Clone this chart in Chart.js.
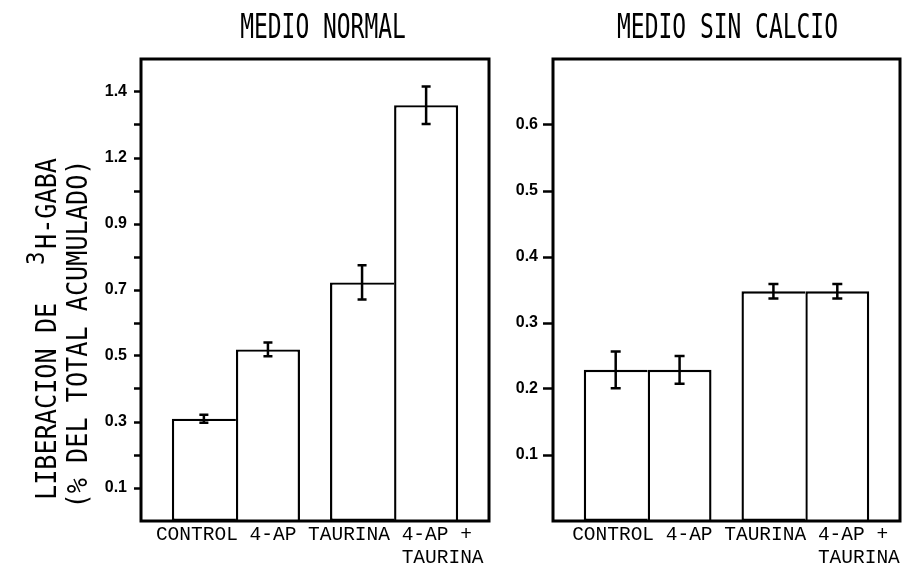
<!DOCTYPE html>
<html><head><meta charset="utf-8">
<script src="https://cdn.jsdelivr.net/npm/chart.js@4.4.0/dist/chart.umd.min.js"></script>
<style>
html,body{margin:0;padding:0;background:#fff;}
#wrap{position:relative;width:913px;height:572px;background:#fff;}
#c1{position:absolute;left:0;top:0;}
#c2{position:absolute;left:505px;top:0;}
</style></head><body>
<div id="wrap"><canvas id="c1" width="505" height="572"></canvas><canvas id="c2" width="408" height="572"></canvas></div>
<script>
// ---- data ----
const categories = ["CONTROL", "4-AP", "TAURINA", ["4-AP +", "TAURINA"]];
const groups = ["SIN TAURINA", "CON TAURINA"];
const normalMeans = [0.31, 0.52, 0.723, 1.36];
const normalErrors = [0.012, 0.021, 0.052, 0.057];
const noCalciumMeans = [0.229, 0.229, 0.348, 0.348];
const noCalciumErrors = [0.028, 0.021, 0.011, 0.011];
const normalTickLabels = ["0.1", "0.3", "0.5", "0.7", "0.9", "1.2", "1.4"];
const noCalciumTickLabels = ["0.1", "0.2", "0.3", "0.4", "0.5", "0.6"];
const titleNormal = "MEDIO NORMAL";
const titleNoCalcium = "MEDIO SIN CALCIO";
const yTitleLine1a = "LIBERACION DE";
const yTitleSup = "3";
const yTitleLine1b = "H-GABA";
const yTitleLine2 = "(% DEL TOTAL ACUMULADO)";

// The printed axis places its labels at equal distances even where the values jump;
// map a value onto that printed axis by piecewise interpolation between labels.
function makeMapper(labels) {
  const vals = labels.map(Number);
  const first = vals[0], step = vals[1] - vals[0];
  return function (v) {
    let i = 0;
    while (i < vals.length - 2 && v > vals[i + 1]) i++;
    const u = i + (v - vals[i]) / (vals[i + 1] - vals[i]);
    return first + step * u;
  };
}

// The category names were typed as one line under each panel (typewriter), with the
// second line of the last category starting under its first line.
function typedCategoryLines(cats) {
  const first = cats.map(c => Array.isArray(c) ? c[0] : c);
  const line1 = first.join(' ');
  const lines = [line1];
  const last = cats[cats.length - 1];
  if (Array.isArray(last)) {
    const col = line1.length - first[first.length - 1].length;
    for (let i = 1; i < last.length; i++) lines.push(' '.repeat(col) + last[i]);
  }
  const w = Math.max(...lines.map(l => l.length));
  return lines.map(l => l.padEnd(w, ' '));
}

const CAT_PCT = 0.81;
const MONO = '"DejaVu Sans Mono", "Liberation Mono", monospace';

const deco = {
  id: 'deco',
  afterDatasetsDraw(chart, args, opts) {
    const ctx = chart.ctx, ys = chart.scales.y;
    ctx.save();
    ctx.strokeStyle = '#000';
    ctx.lineWidth = 2.5;
    chart.data.datasets.forEach((ds, di) => {
      const meta = chart.getDatasetMeta(di);
      meta.data.forEach((bar, j) => {
        const x = bar.x;
        const y1 = ys.getPixelForValue(ds.errHi[j]);
        const y2 = ys.getPixelForValue(ds.errLo[j]);
        const cw = opts.capW;
        ctx.beginPath();
        ctx.moveTo(x, y1); ctx.lineTo(x, y2);
        ctx.moveTo(x - cw, y1); ctx.lineTo(x + cw, y1);
        ctx.moveTo(x - cw, y2); ctx.lineTo(x + cw, y2);
        ctx.stroke();
      });
    });
    ctx.restore();
  },
  afterDraw(chart, args, opts) {
    const ctx = chart.ctx, a = chart.chartArea;
    ctx.save();
    ctx.strokeStyle = '#000';
    ctx.lineWidth = 3;
    ctx.strokeRect(a.left, a.top, a.right - a.left, a.bottom - a.top);
    // panel title
    ctx.fillStyle = '#000';
    ctx.font = '33px ' + MONO;
    ctx.textAlign = 'center';
    ctx.textBaseline = 'alphabetic';
    ctx.save();
    ctx.translate((a.left + a.right) / 2 + opts.titleShift, 38);
    ctx.scale(0.695, 1);
    ctx.fillText(opts.title, 0, 0);
    ctx.restore();
    if (opts.yTitle) {
      const sx = 0.9;
      ctx.font = '28px ' + MONO;
      // line 2
      ctx.save();
      ctx.translate(87, 334);
      ctx.rotate(-Math.PI / 2);
      ctx.scale(sx, 1);
      ctx.textAlign = 'center';
      ctx.fillText(yTitleLine2, 0, 0);
      ctx.restore();
      // line 1
      ctx.save();
      ctx.translate(56, 500);
      ctx.rotate(-Math.PI / 2);
      ctx.scale(sx, 1);
      ctx.textAlign = 'left';
      ctx.fillText(yTitleLine1a, 0, 0);
      ctx.fillText(yTitleLine1b, 251 / sx, 0);
      ctx.font = '25px ' + MONO;
      ctx.fillText(yTitleSup, 235 / sx, -12);
      ctx.restore();
    }
    ctx.restore();
  }
};

function buildChart(canvas, cfg) {
  const p = makeMapper(cfg.tickLabels);
  const datasets = [0, 1].map(d => ({
    label: d === 0 ? 'sin 4-AP' : 'con 4-AP',
    data: groups.map((g, gi) => ({ x: gi, y: p(cfg.means[gi * 2 + d]) })),
    errLo: groups.map((g, gi) => p(cfg.means[gi * 2 + d] - cfg.errors[gi * 2 + d])),
    errHi: groups.map((g, gi) => p(cfg.means[gi * 2 + d] + cfg.errors[gi * 2 + d])),
    xAxisID: 'x',
    backgroundColor: '#fff',
    borderColor: '#000',
    borderWidth: 2.4,
    borderSkipped: d === 0 ? 'right' : 'start',
    barPercentage: 1,
    categoryPercentage: CAT_PCT,
    inflateAmount: 0
  }));
  const yTicks = [];
  cfg.tickLabels.forEach((l, i) => {
    yTicks.push({ value: p(Number(l)), txt: l });
    if (cfg.minor && i < cfg.tickLabels.length - 1) {
      yTicks.push({ value: (p(Number(l)) + p(Number(cfg.tickLabels[i + 1]))) / 2, txt: '' });
    }
  });
  const xMin = -0.6, xMax = 1.6;
  const typed = typedCategoryLines(categories);
  return new Chart(canvas, {
    type: 'bar',
    data: { datasets },
    options: {
      responsive: false,
      animation: false,
      layout: { padding: { top: 59, right: cfg.padRight, bottom: 0, left: 0 } },
      scales: {
        x: {
          type: 'linear', min: xMin, max: xMax, offset: false, display: false,
          afterBuildTicks(s) { s.ticks = groups.map((g, gi) => ({ value: gi })); }
        },
        xl: {
          type: 'linear', position: 'bottom', min: xMin, max: xMax, offset: false,
          afterFit(s) { s.height = 51; },
          afterBuildTicks(s) { s.ticks = [{ value: (xMin + xMax) / 2 + cfg.labelShift }]; },
          grid: { display: false, drawTicks: false },
          border: { display: false },
          ticks: {
            autoSkip: false, maxRotation: 0, minRotation: 0, padding: 2, color: '#000',
            font: { family: '"Liberation Mono", "Courier New", monospace', size: 19.5, lineHeight: 1.18 },
            callback: () => typed
          }
        },
        y: {
          type: 'linear', min: 0, max: cfg.yMax,
          afterFit(s) { s.width = cfg.yWidth; },
          afterBuildTicks(s) { s.ticks = yTicks.map(t => ({ value: t.value, txt: t.txt })); },
          border: { display: false },
          grid: { drawOnChartArea: false, drawTicks: true, tickLength: cfg.tickLen, tickWidth: 2.5, tickColor: '#000' },
          ticks: {
            autoSkip: false, padding: cfg.tickPad, color: '#000',
            font: { family: '"Liberation Sans", Arial, sans-serif', size: 16, weight: 'bold' },
            callback: (v, i, t) => t[i].txt
          }
        }
      },
      plugins: {
        legend: { display: false },
        tooltip: { enabled: false },
        title: { display: false },
        deco: { title: cfg.title, titleShift: cfg.titleShift, yTitle: cfg.yTitle, capW: cfg.capW }
      }
    },
    plugins: [deco]
  });
}

buildChart(document.getElementById('c1'), {
  means: normalMeans, errors: normalErrors, tickLabels: normalTickLabels,
  yMax: 1.4, yWidth: 141, padRight: 16, tickLen: 7, tickPad: 7, minor: true,
  title: titleNormal, titleShift: 8, yTitle: true, capW: 4.5, labelShift: 0.03
});
buildChart(document.getElementById('c2'), {
  means: noCalciumMeans, errors: noCalciumErrors, tickLabels: noCalciumTickLabels,
  yMax: 0.7, yWidth: 48, padRight: 13, tickLen: 10, tickPad: 5, minor: false,
  title: titleNoCalcium, titleShift: 1, yTitle: false, capW: 5, labelShift: 0.06
});
</script>
</body></html>
